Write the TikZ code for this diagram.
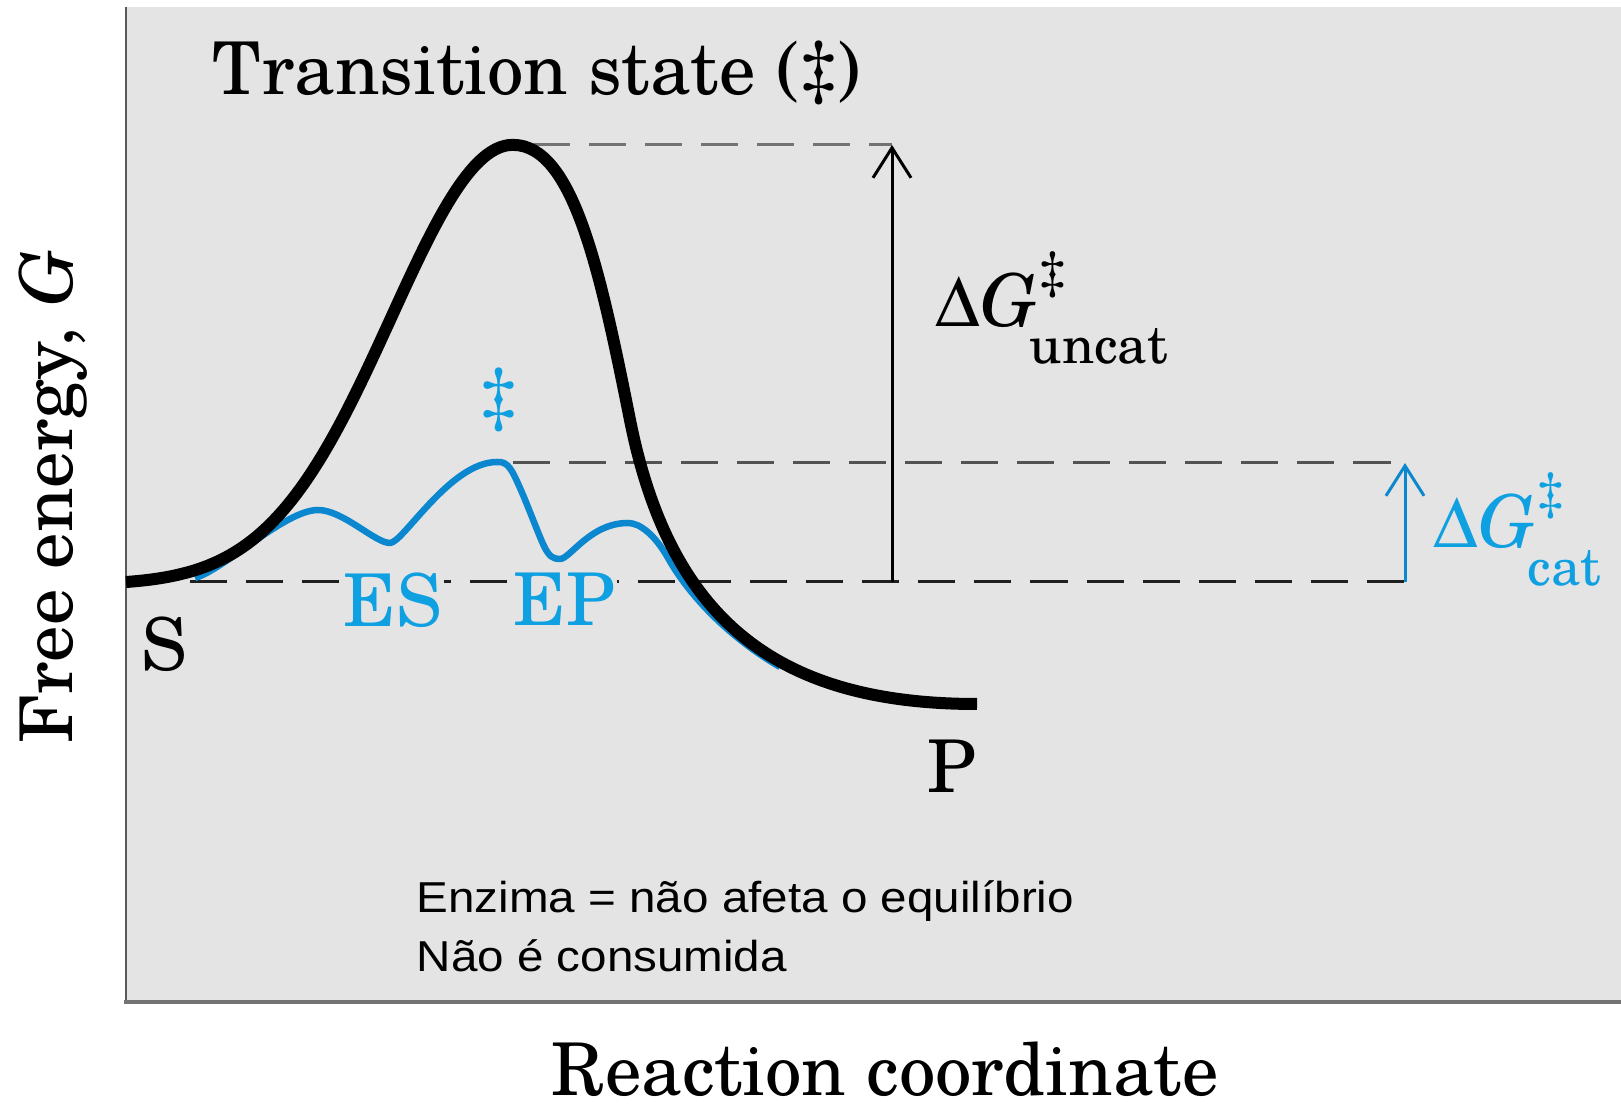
\documentclass[tikz,border=0pt]{standalone}
\usepackage[no-math]{fontspec}
\setmainfont{TeX Gyre Schola}
\newfontfamily\enzfont[FakeStretch=1.1]{Liberation Sans}
\usetikzlibrary{arrows.meta}
\definecolor{bgray}{HTML}{E4E4E4}
\definecolor{curveblue}{HTML}{0A87CE}
\definecolor{textblue}{HTML}{0FA0E2}
\newcommand\mybigfont{\fontsize{20.7pt}{25pt}\selectfont}
\newcommand\mysubfont{\fontsize{15pt}{18pt}\selectfont}
\newcommand\myDelta{\symbol{"0394}}
\tikzset{
  lbl/.style={inner sep=0pt, font=\mybigfont},
  note/.style={inner sep=0pt, anchor=base west, font=\enzfont\fontsize{12.3pt}{16.8pt}\selectfont},
  dashline/.style={line width=0.03cm, dash pattern=on 0.37cm off 0.19cm},
  barb/.style={line width=0.03cm, -{Straight Barb[length=0.3cm,width=0.38cm]}},
}
\begin{document}
\begin{tikzpicture}[x=0.01cm, y=-0.01cm]
\useasboundingbox (0,0) rectangle (1621,1107);
% panel
\fill[bgray] (126,7) rectangle (1621,1002);
\draw[line width=0.025cm, color=black!65] (126,7) -- (126,1002);
\draw[line width=0.04cm, color=black!55] (124,1002) -- (1621,1002);

% key coordinates
\coordinate (bu) at (892,582);
\coordinate (tu) at (892,145);
\coordinate (bc) at (1405,582);
\coordinate (tc) at (1405,463);
\coordinate (topL) at (533,145);
\coordinate (midL) at (513,463);
\coordinate (baseL) at (190,582);

% dashed levels
\draw[dashline, color=black!55] (topL) -- (tu);
\draw[dashline, color=black!68] (midL) -- (tc);
\draw[dashline, color=black!88] (baseL) -- (bc);

% catalysed path
\draw[curveblue, line width=0.065cm, line join=round]
  (195,578) .. controls (225,569) and (285,510) .. (318,510)
  .. controls (343,510) and (375,543) .. (390,543)
  .. controls (403,543) and (450,462) .. (497,462)
  .. controls (508,461) and (512,470) .. (520,488)
  .. controls (528,506) and (536,528) .. (543,544)
  .. controls (549,557) and (553,559) .. (560,559)
  .. controls (570,559) and (590,523) .. (628,523)
  .. controls (640,523) and (655,535) .. (668,558)
  .. controls (690,597) and (730,638) .. (780,667);

% uncatalysed path
\draw[black, line width=0.12cm]
  plot[domain=126:513, samples=90] (\x, {584.9-440*exp(-0.5*((\x-513)/122)^2)})
  .. controls (573,145) and (600,270) .. (630,420)
  .. controls (670,620) and (777,704) .. (977,704);

% energy arrows
\draw[barb, black] (bu) -- (tu);
\draw[barb, curveblue] (bc) -- (tc);

% labels
\node[lbl, anchor=base west] (title) at (212,95) {Transition state (‡)};
\node[lbl, rotate=90, anchor=base] (ylab) at (72,497) {Free energy, \textit{G}};
\node[lbl, anchor=base] (xlab) at (885,1096) {Reaction coordinate};
\node[lbl, anchor=base] (S) at (164,671) {S};
\node[lbl, anchor=base] (P) at (952,793) {P};
\node[lbl, anchor=base, text=textblue, fill=bgray, inner sep=0.02cm] (ES) at (393,627) {ES};
\node[lbl, anchor=base, text=textblue, fill=bgray, inner sep=0.02cm] (EP) at (564,626) {EP};
\node[lbl, anchor=center, text=textblue] (dag) at (499,400) {‡};

\node[lbl, anchor=base west] (dGu) at (935,327)
  {\myDelta\textit{G}\hspace{0.03cm}\rlap{\raisebox{0.36cm}{\mysubfont ‡}}\hspace{-0.1cm}\raisebox{-0.36cm}{\mysubfont uncat}};
\node[lbl, anchor=base west, text=textblue] (dGc) at (1433,548)
  {\myDelta\textit{G}\hspace{0.03cm}\rlap{\raisebox{0.36cm}{\mysubfont ‡}}\hspace{-0.1cm}\raisebox{-0.37cm}{\mysubfont cat}};

\node[note] (note1) at (416,913) {Enzima = não afeta o equilíbrio};
\node[note] (note2) at (416,972) {Não é consumida};
\end{tikzpicture}
\end{document}
